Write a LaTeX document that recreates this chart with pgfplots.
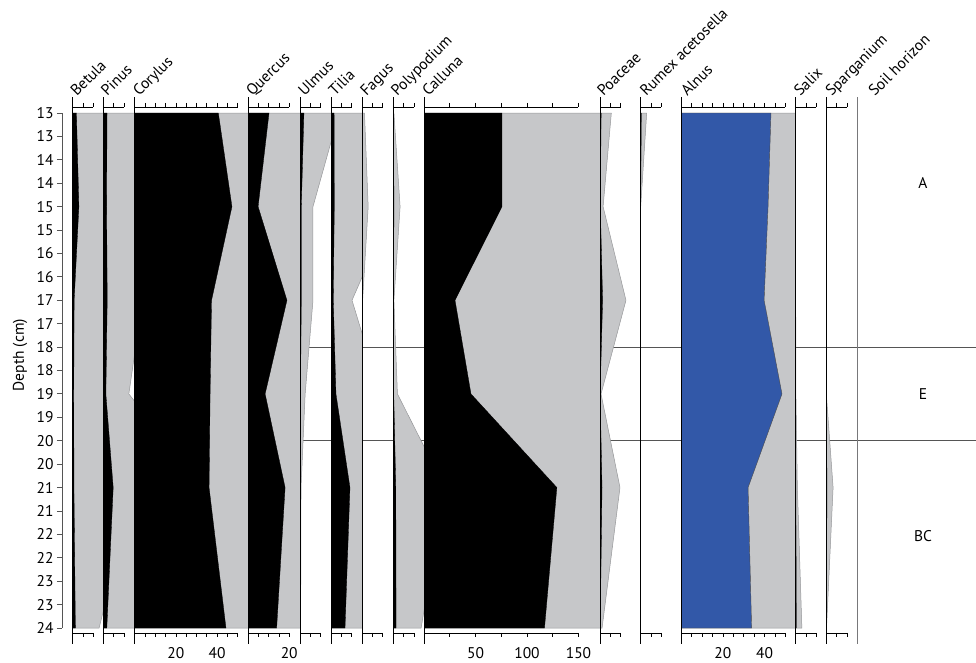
\documentclass[border=0pt]{standalone}
\usepackage{pgfplots}
\pgfplotsset{compat=1.18}
\usepackage{fontspec}
\setmainfont{PT Sans}

\definecolor{shade}{RGB}{198,199,201}
\definecolor{shadeline}{RGB}{150,151,153}
\definecolor{alnusblue}{RGB}{50,88,168}
\definecolor{zone}{RGB}{85,85,85}
\definecolor{soil}{RGB}{120,120,122}

\newcommand{\fsz}{\fontsize{15.5}{18}\selectfont}

% every column: depth 13-24 cm, axis line from 12.658 to 24.342
\pgfplotsset{
  col/.style={
    scale only axis, anchor=north west, height=547pt,
    y dir=reverse, ymin=12.658, ymax=24.342, xmin=0,
    axis y line*=left, axis x line*=bottom,
    x axis line style={draw=none}, xtick style={draw=none},
    ytick=\empty, xtick=\empty,
    axis on top, clip mode=individual,
    y axis line style={black, line width=0.9pt},
    tick label style={font=\fsz},
    /pgf/number format/assume math mode=true,
  },
  ex/.style={fill=shade, draw=shadeline, line width=0.5pt},
  val/.style={fill=black, draw=black, line width=0.3pt},
  sc/.style={black, line width=0.8pt},
  tk/.style={black, only marks, mark=|, mark size=2.2pt, mark options={line width=0.8pt}},
}
\tikzset{taxon/.style={anchor=base west, inner sep=0pt, font=\fsz, rotate=45}}

% scale bars above and below the columns
\newcommand{\scaleten}{%
  \addplot[sc] coordinates {(0,12.872) (10,12.872)};
  \addplot[sc] coordinates {(0,24.107) (10,24.107)};
  \addplot[tk] coordinates {(0,12.83) (5,12.83) (10,12.83) (0,24.15) (5,24.15) (10,24.15)};}
\newcommand{\scaletwenty}{%
  \addplot[sc] coordinates {(0,12.872) (20,12.872)};
  \addplot[sc] coordinates {(0,24.107) (20,24.107)};
  \addplot[tk] coordinates {(0,12.83) (5,12.83) (10,12.83) (15,12.83) (20,12.83)
    (0,24.15) (5,24.15) (10,24.15) (15,24.15) (20,24.15)};}
\newcommand{\scalefifty}{%
  \addplot[sc] coordinates {(0,12.872) (50,12.872)};
  \addplot[sc] coordinates {(0,24.107) (50,24.107)};
  \addplot[tk] coordinates {(0,12.83) (5,12.83) (10,12.83) (15,12.83) (20,12.83) (25,12.83)
    (30,12.83) (35,12.83) (40,12.83) (45,12.83) (50,12.83)
    (0,24.15) (5,24.15) (10,24.15) (15,24.15) (20,24.15) (25,24.15)
    (30,24.15) (35,24.15) (40,24.15) (45,24.15) (50,24.15)};}
\newcommand{\scalecal}{%
  \addplot[sc] coordinates {(0,12.872) (150,12.872)};
  \addplot[sc] coordinates {(0,24.107) (150,24.107)};
  \addplot[tk] coordinates {(0,12.83) (25,12.83) (50,12.83) (75,12.83) (100,12.83) (125,12.83) (150,12.83)
    (0,24.15) (25,24.15) (50,24.15) (75,24.15) (100,24.15) (125,24.15) (150,24.15)};}

\begin{document}
\begin{tikzpicture}[font=\fsz]
\path[use as bounding box] (0pt,0pt) rectangle (976pt,-662pt);

% zone boundaries behind the columns
\begin{axis}[at={(300pt,-97pt)}, anchor=north west, scale only axis,
  width=676pt, height=547pt, xmin=0, xmax=1,
  y dir=reverse, ymin=12.658, ymax=24.342, hide axis, clip=false]
\addplot[zone, line width=0.9pt] coordinates {(0,18) (1,18)};
\addplot[zone, line width=0.9pt] coordinates {(0,20) (1,20)};
\end{axis}

% depth axis
\begin{axis}[at={(62pt,-113pt)}, anchor=north west, scale only axis,
  width=10pt, height=515pt, xmin=0, xmax=1, ymin=13, ymax=24, y dir=reverse,
  hide x axis, axis y line*=left,
  y axis line style={zone, line width=0.9pt},
  ytick={13,13.5,...,24},
  yticklabels={13,13,14,14,15,15,16,16,17,17,18,18,19,19,20,20,21,21,22,22,23,23,24},
  tick align=outside, major tick length=5pt,
  ytick style={zone, line width=0.9pt},
  tick label style={font=\fsz},
  ylabel={Depth (cm)},
  every axis y label/.style={at={(axis description cs:-4.2,0.53)}, rotate=90, anchor=center, font=\fsz},
]
\end{axis}

% Betula
\begin{axis}[col, at={(72.7pt,-97pt)}, width=30.6pt, xmax=14.85]
\addplot[ex] coordinates {(0,13) (18,13) (30,15) (20,17) (20,19) (30,21) (12.8,24) (0,24)} -- cycle;
\addplot[val] coordinates {(0,13) (1.8,13) (3.0,15) (0.7,17) (0.5,19) (0.6,21) (1.3,24) (0,24)} -- cycle;
\scaleten
\node[taxon] at ([xshift=4pt]axis description cs:0,1) {Betula};
\end{axis}

% Pinus
\begin{axis}[col, at={(103.3pt,-97pt)}, width=31.4pt, xmax=15.24]
\addplot[ex] coordinates {(0,13) (18,13) (16,15) (19,17) (12.4,19) (48,21) (17,24) (0,24)} -- cycle;
\addplot[val] coordinates {(0,13) (1.8,13) (1.6,15) (1.9,17) (1.24,19) (4.8,21) (1.7,24) (0,24)} -- cycle;
\scaleten
\node[taxon] at ([xshift=4pt]axis description cs:0,1) {Pinus};
\end{axis}

% Corylus
\begin{axis}[col, at={(134.7pt,-97pt)}, width=113.3pt, xmax=55,
  xtick={20,40}]
\addplot[ex] coordinates {(0,13) (406,13) (472,15) (373,17) (366,19) (361,21) (443,24) (0,24)} -- cycle;
\addplot[val] coordinates {(0,13) (40.6,13) (47.2,15) (37.3,17) (36.6,19) (36.1,21) (44.3,24) (0,24)} -- cycle;
\scalefifty
\node[taxon] at ([xshift=4.5pt]axis description cs:0,1) {Corylus};
\end{axis}

% Quercus
\begin{axis}[col, at={(248pt,-97pt)}, width=52pt, xmax=25.24,
  xtick={20}]
\addplot[ex] coordinates {(0,13) (102,13) (49,15) (189,17) (83,19) (180,21) (139,24) (0,24)} -- cycle;
\addplot[val] coordinates {(0,13) (10.2,13) (4.9,15) (18.9,17) (8.3,19) (18.0,21) (13.9,24) (0,24)} -- cycle;
\scaletwenty
\node[taxon] at ([xshift=4.5pt]axis description cs:0,1) {Quercus};
\end{axis}

% Ulmus
\begin{axis}[col, at={(300pt,-97pt)}, width=31pt, xmax=15.05]
\addplot[ex] coordinates {(0,13) (19,13) (6.3,15) (6.3,17) (2.5,19) (0.5,21) (0.3,24) (0,24)} -- cycle;
\addplot[val] coordinates {(0,13) (1.9,13) (0.63,15) (0.63,17) (0.25,19) (0.05,21) (0.03,24) (0,24)} -- cycle;
\scaleten
\node[taxon] at ([xshift=4.5pt]axis description cs:0,1) {Ulmus};
\end{axis}

% Tilia
\begin{axis}[col, at={(331pt,-97pt)}, width=31pt, xmax=15.05]
\addplot[ex] coordinates {(0,13) (16,13) (30,15) (10.2,17) (24,19) (92,21) (68,24) (0,24)} -- cycle;
\addplot[val] coordinates {(0,13) (1.5,13) (1.6,15) (1.1,17) (2.4,19) (9.2,21) (6.8,24) (0,24)} -- cycle;
\scaleten
\node[taxon] at ([xshift=4pt]axis description cs:0,1) {Tilia};
\end{axis}

% Fagus
\begin{axis}[col, at={(362pt,-97pt)}, width=31.3pt, xmax=15.19]
\addplot[ex] coordinates {(0,13) (1.2,13) (3.0,15) (0.3,17) (0,19) (0,21) (0,24) (0,24)} -- cycle;
\addplot[val] coordinates {(0,13) (0.12,13) (0.3,15) (0.03,17) (0,19) (0,21) (0,24) (0,24)} -- cycle;
\scaleten
\node[taxon] at ([xshift=4.5pt]axis description cs:0,1) {Fagus};
\end{axis}

% Polypodium
\begin{axis}[col, at={(393.3pt,-97pt)}, width=30.7pt, xmax=14.9]
\addplot[ex] coordinates {(0,13) (0.3,13) (3.3,15) (0.3,17) (2.0,19) (25,21) (13.5,24) (0,24)} -- cycle;
\addplot[val] coordinates {(0,13) (0.03,13) (0.33,15) (0.03,17) (0.2,19) (1.2,21) (1.35,24) (0,24)} -- cycle;
\scaleten
\node[taxon] at ([xshift=4pt]axis description cs:0,1) {Polypodium};
\end{axis}

% Calluna
\begin{axis}[col, at={(424pt,-97pt)}, width=176pt, xmax=170.9,
  xtick={50,100,150}]
\addplot[ex] coordinates {(0,13) (757,13) (757,15) (301,17) (456,19) (1290,21) (1170,24) (0,24)} -- cycle;
\addplot[val] coordinates {(0,13) (75.7,13) (75.7,15) (30.1,17) (45.6,19) (129,21) (117,24) (0,24)} -- cycle;
\scalecal
\node[taxon] at ([xshift=4.5pt]axis description cs:0,1) {Calluna};
\end{axis}

% Poaceae
\begin{axis}[col, at={(600pt,-97pt)}, width=40.7pt, xmax=19.76]
\addplot[ex] coordinates {(0,13) (5.5,13) (1.5,15) (12.6,17) (0.5,19) (9.7,21) (1.0,24) (0,24)} -- cycle;
\addplot[val] coordinates {(0,13) (0.55,13) (0.15,15) (1.26,17) (0.05,19) (0.97,21) (0.1,24) (0,24)} -- cycle;
\scaleten
\node[taxon] at ([xshift=3.5pt]axis description cs:0,1) {Poaceae};
\end{axis}

% Rumex acetosella
\begin{axis}[col, at={(640.7pt,-97pt)}, width=40.6pt, xmax=19.7]
\addplot[ex] coordinates {(0,13) (2.9,13) (0,15) (0,17) (0,19) (0,21) (0,24) (0,24)} -- cycle;
\addplot[val] coordinates {(0,13) (0.29,13) (0,15) (0,17) (0,19) (0,21) (0,24) (0,24)} -- cycle;
\scaleten
\node[taxon] at ([xshift=5.5pt]axis description cs:0,1) {Rumex acetosella};
\end{axis}

% Alnus
\begin{axis}[col, at={(681.3pt,-97pt)}, width=114.4pt, xmax=55,
  xtick={20,40}]
\addplot[ex] coordinates {(0,13) (431,13) (417,15) (398,17) (484,19) (321,21) (338,24) (0,24)} -- cycle;
\addplot[fill=alnusblue, draw=black!70, line width=0.4pt] coordinates {(0,13) (43.1,13) (41.7,15) (39.8,17) (48.4,19) (32.1,21) (33.8,24) (0,24)} -- cycle;
\scalefifty
\node[taxon] at ([xshift=6pt]axis description cs:0,1) {Alnus};
\end{axis}

% Salix
\begin{axis}[col, at={(795.7pt,-97pt)}, width=30.6pt, xmax=14.85]
\addplot[ex] coordinates {(0,13) (0,13) (0,15) (0,17) (0.1,19) (0.8,21) (3.0,24) (0,24)} -- cycle;
\addplot[val] coordinates {(0,13) (0,13) (0,15) (0,17) (0.01,19) (0.08,21) (0.3,24) (0,24)} -- cycle;
\scaleten
\node[taxon] at ([xshift=4.5pt]axis description cs:0,1) {Salix};
\end{axis}

% Sparganium
\begin{axis}[col, at={(826.3pt,-97pt)}, width=31pt, xmax=15.05]
\addplot[ex] coordinates {(0,13) (0,13) (0,15) (0,17) (0,19) (3.3,21) (0.1,24) (0,24)} -- cycle;
\addplot[val] coordinates {(0,13) (0,13) (0,15) (0,17) (0,19) (0.33,21) (0.01,24) (0,24)} -- cycle;
\scaleten
\node[taxon] at ([xshift=5.5pt]axis description cs:0,1) {Sparganium};
\end{axis}

% Soil horizon
\begin{axis}[col, at={(857.3pt,-97pt)}, width=118.7pt, xmax=1,
  y axis line style={soil, line width=0.9pt}]
\node[taxon] at ([xshift=17.5pt]axis description cs:0,1) {Soil horizon};
\node at (axis cs:0.553,14.5) {A};
\node at (axis cs:0.553,19.0) {E};
\node at (axis cs:0.553,22.03) {BC};
\end{axis}
\end{tikzpicture}
\end{document}
